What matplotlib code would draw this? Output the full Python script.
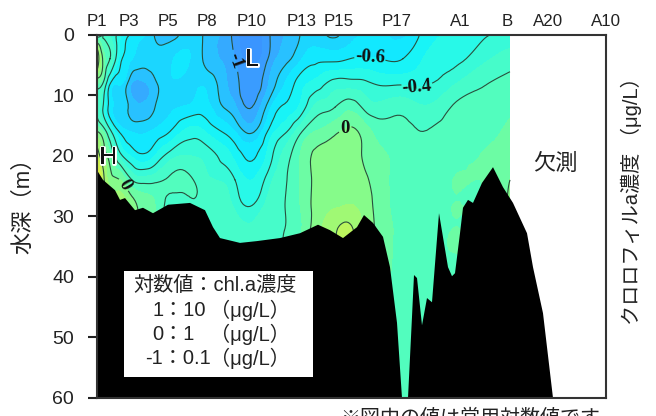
import matplotlib
matplotlib.use("Agg")
import matplotlib.pyplot as plt
import matplotlib.tri as tri
import numpy as np
from matplotlib.colors import LinearSegmentedColormap
import matplotlib.patheffects as pe

plt.rcParams['font.family'] = ['Liberation Sans', 'Noto Sans CJK JP', 'DejaVu Sans']

# station names along the top
station_names = ["P1", "P3", "P5", "P8", "P10", "P13", "P15", "P17", "A1", "B", "A20", "A10"]
station_pos = [0, 32, 71, 110, 155, 205, 242, 300, 363, 410, 451, 509]

depths = [0, 4, 8, 12, 16, 20, 24, 28, 32, 36, 60]
dist = [0, 6, 13, 23, 33, 44, 58, 73, 93, 108, 128, 138, 155, 173, 188, 203, 218, 238, 253, 268, 283, 306, 326, 356, 383, 413]
chl = [
    [-0.30, 0.35, -0.10, -0.20, 0.00, 0.30, 0.50, 0.50, 0.50, 0.50, 0.50],
    [-0.20, -0.02, -0.20, -0.40, -0.10, 0.10, 0.25, 0.30, 0.30, 0.30, 0.30],
    [-0.30, -0.20, -0.58, -0.65, -0.35, -0.07, 0.05, 0.20, 0.20, 0.20, 0.20],
    [-0.47, -0.55, -0.68, -0.75, -0.62, -0.35, 0.00, 0.15, 0.15, 0.15, 0.15],
    [-0.60, -0.68, -0.86, -0.82, -0.70, -0.50, -0.17, 0.07, 0.07, 0.07, 0.07],
    [-0.66, -0.76, -0.93, -0.88, -0.72, -0.58, -0.25, -0.03, 0.00, 0.00, 0.00],
    [-0.81, -0.77, -0.82, -0.80, -0.68, -0.50, -0.23, -0.10, -0.10, -0.10, -0.10],
    [-0.87, -0.72, -0.72, -0.72, -0.60, -0.35, -0.18, -0.25, -0.25, -0.25, -0.25],
    [-0.72, -0.70, -0.72, -0.68, -0.46, -0.30, -0.18, -0.22, -0.25, -0.25, -0.25],
    [-0.82, -0.82, -0.72, -0.66, -0.50, -0.33, -0.27, -0.22, -0.25, -0.25, -0.25],
    [-0.93, -0.92, -0.88, -0.81, -0.62, -0.45, -0.32, -0.25, -0.22, -0.22, -0.22],
    [-1.05, -1.00, -0.96, -0.88, -0.70, -0.53, -0.40, -0.33, -0.25, -0.25, -0.25],
    [-1.20, -1.15, -1.08, -1.00, -0.82, -0.62, -0.50, -0.41, -0.28, -0.28, -0.28],
    [-1.00, -0.97, -0.88, -0.72, -0.56, -0.44, -0.33, -0.25, -0.22, -0.22, -0.22],
    [-0.90, -0.84, -0.70, -0.58, -0.42, -0.26, -0.21, -0.20, -0.20, -0.20, -0.20],
    [-0.80, -0.72, -0.55, -0.48, -0.23, -0.10, -0.10, -0.10, -0.12, -0.12, -0.12],
    [-0.75, -0.63, -0.47, -0.28, -0.10, 0.02, 0.02, 0.03, 0.05, 0.05, 0.05],
    [-0.82, -0.63, -0.36, -0.20, -0.02, 0.06, 0.07, 0.09, 0.18, 0.18, 0.18],
    [-0.72, -0.60, -0.36, -0.13, 0.02, 0.06, 0.07, 0.10, 0.22, 0.22, 0.22],
    [-0.70, -0.59, -0.38, -0.23, -0.05, -0.02, 0.02, 0.05, 0.08, 0.08, 0.08],
    [-0.68, -0.60, -0.42, -0.27, -0.14, -0.08, -0.06, -0.05, -0.03, -0.03, -0.03],
    [-0.72, -0.60, -0.42, -0.24, -0.17, -0.14, -0.14, -0.14, -0.14, -0.14, -0.14],
    [-0.57, -0.50, -0.42, -0.29, -0.20, -0.16, -0.15, -0.15, -0.15, -0.15, -0.15],
    [-0.50, -0.44, -0.32, -0.19, -0.14, -0.12, -0.10, -0.10, -0.10, -0.10, -0.10],
    [-0.43, -0.34, -0.22, -0.15, -0.12, -0.10, -0.10, -0.10, -0.10, -0.10, -0.10],
    [-0.38, -0.25, -0.17, -0.12, -0.08, -0.05, 0.00, 0.02, 0.02, 0.02, 0.02],
]

# seabed outline
bed_x = [0, 6, 18, 23, 28, 38, 46, 56, 71, 93, 108, 116, 123, 143, 160, 183, 203, 221, 233, 246, 260, 267, 276, 286,
         293, 300, 305, 311, 315, 317, 320, 325, 330, 335, 342, 351, 355, 358, 363, 366, 371, 376, 385, 396, 406, 416, 430, 436, 446, 456]
bed_y = [22.4, 24.0, 25.7, 27.3, 27.0, 29.0, 28.6, 29.5, 28.1, 27.8, 29.0, 31.8, 33.6, 34.4, 34.1, 33.6, 32.8, 31.4, 32.3, 33.6, 31.8, 29.8, 31.1, 33.4,
         38.4, 47.6, 60, 60, 46.6, 39.7, 40.2, 48.0, 43.5, 44.2, 29.5, 38.4, 39.9, 39.4, 32.8, 28.6, 27.3, 27.8, 24.5, 21.9, 25.2, 27.8, 32.8, 38.4, 46.0, 60]

yticks = [0, 10, 20, 30, 40, 50, 60]
levels_line = [-1.0, -0.8, -0.6, -0.4, -0.2, 0.0, 0.2]
levels_fill = np.arange(-1.3, 0.75, 0.1)

color_at = [-1.3, -1.0, -0.9, -0.8, -0.7, -0.6, -0.5, -0.4, -0.3, -0.2, -0.1, 0.0, 0.1, 0.2, 0.4, 0.7]
colors = ["#3a8cff", "#3a9fff", "#2eb8ff", "#22ccff", "#14e0ff", "#10f0ff", "#20f8f0", "#30fae0",
          "#40fbd0", "#4cfcc4", "#58fdb8", "#7cfb94", "#90fa80", "#b0f868", "#dcf044", "#f8e030"]

W, H = 656, 416
fig = plt.figure(figsize=(W / 100, H / 100), dpi=100)
ax = fig.add_axes([97 / W, 1 - 398 / H, 509 / W, 363.5 / H])


def to_fig(x, y):
    return x / W, 1 - y / H


cmap = LinearSegmentedColormap.from_list("chl", [((v + 1.3) / 2.0, c) for v, c in zip(color_at, colors)])

X, Y = np.meshgrid(dist, depths, indexing="ij")
t = tri.Triangulation(X.ravel(), Y.ravel())
refiner = tri.UniformTriRefiner(t)
t2, z2 = refiner.refine_field(np.array(chl).ravel(), subdiv=3)

ax.tricontourf(t2, z2, levels=levels_fill, cmap=cmap, vmin=-1.3, vmax=0.7, extend="both")
cs = ax.tricontour(t2, z2, levels=levels_line, colors="#27503f", linewidths=0.8, linestyles="solid")

# inline labels
txts = ax.clabel(cs, inline=True, inline_spacing=3, fontsize=13.5, fmt=lambda v: "%g" % round(v, 1),
                 manual=[(136, 4.5), (273, 4.4), (320, 8.5), (248, 15.5), (23, 25.5)])
label_rot = [-70, -3, 5, 0, -60]
for txt, rot in zip(txts, label_rot):
    txt.set_family("Liberation Serif")
    txt.set_fontweight("bold")
    txt.set_color("#111111")
    txt.set_rotation(rot)

ax.fill(bed_x + [0], bed_y + [60], color="black", lw=0, zorder=5)

ax.set_xlim(0, 509)
ax.set_ylim(60, 0)
ax.set_yticks(yticks)
ax.tick_params(axis="y", length=6.5, width=1.5, color="#222222", labelsize=14, pad=10, labelcolor="#222222")
ax.xaxis.tick_top()
ax.set_xticks(station_pos, station_names)
ax.tick_params(axis="x", length=0, labelsize=12.2, pad=4, colors="#222222")
ax.set_xlim(0, 509)
for s in ax.spines.values():
    s.set_linewidth(1.5)
    s.set_color("#333333")
    s.set_zorder(8)

outline = [pe.withStroke(linewidth=2, foreground="white")]
ax.text(11, 20.4, "H", fontsize=17.5, ha="center", va="center", color="#111111", path_effects=outline, zorder=7)
ax.text(155, 4.2, "L", fontsize=17.5, ha="center", va="center", color="#111111", path_effects=outline, zorder=7)
ax.text(458, 21.5, "欠測", fontsize=16, ha="center", va="center", color="#222222")

# log value note
fig.patches.append(plt.Rectangle(to_fig(124, 377), 189 / W, 106 / H, transform=fig.transFigure,
                                 facecolor="white", edgecolor="none", zorder=6))
note_size = 14.5
nx, ny = to_fig(133, 285)
fig.text(nx, ny, "対数値：chl.a濃度", fontsize=note_size, va="center", color="#222222", zorder=7)
note_vals = ["1：10", "0：1", "-1：0.1"]
note_x = [153, 152, 145]
note_y = [310, 334, 358]
for v, vx, vy in zip(note_vals, note_x, note_y):
    a, b = to_fig(vx, vy)
    fig.text(a, b, v, fontsize=note_size, va="center", color="#222222", zorder=7)
    a, b = to_fig(210, vy)
    fig.text(a, b, "（μg/L）", fontsize=note_size, va="center", color="#222222", zorder=7)

a, b = to_fig(24, 200)
fig.text(a, b, "水深（m）", rotation=90, fontsize=16, ha="center", va="center", color="#222222")
a, b = to_fig(631, 196)
fig.text(a, b, "クロロフィルa濃度 （μg/L）", rotation=90, fontsize=14.5, ha="center", va="center", color="#222222")
a, b = to_fig(470, 418)
fig.text(a, b, "※図中の値は常用対数値です", fontsize=14.4, ha="center", va="center", color="#222222")

fig.savefig("out.png", dpi=100)
